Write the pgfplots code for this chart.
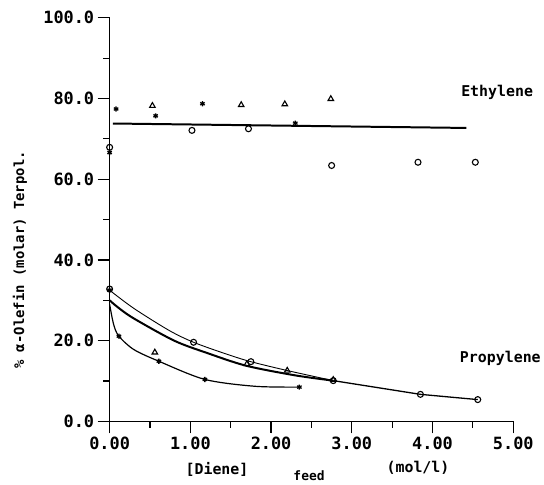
\documentclass[border=0pt]{standalone}
\usepackage{pgfplots}
\pgfplotsset{compat=1.18}
\usepackage{fontspec}
\setmainfont{DejaVu Sans Mono}
\begin{document}
\begin{tikzpicture}
\begin{axis}[
  scale only axis, width=405bp, height=405bp,
  xmin=0, xmax=5, ymin=0, ymax=100,
  axis x line*=bottom, axis y line*=left,
  axis line style={-, line width=1.3bp},
  xtick={0,1,2,3,4,5}, ytick={0,20,40,60,80,100},
  tick align=outside,
  major tick length=12bp,
  tick style={black, line width=1.1bp},
  xticklabel={\pgfmathprintnumber[fixed,fixed zerofill,precision=2,assume math mode=true]{\tick}},
  yticklabel={\pgfmathprintnumber[fixed,fixed zerofill,precision=1,assume math mode=true]{\tick}},
  tick label style={font=\fontsize{17}{19}\selectfont\bfseries},
  clip=false,
]
% invisible frame giving the page the reference's size
\path (axis cs:-1.358,-14.4) rectangle (axis cs:5.358,104.4);

% tick marks, pointing outward (drawn as combs)
\addplot[ycomb, black, line width=1.2bp, forget plot] coordinates {
  (0,-2.95) (1,-2.95) (2,-2.95) (3,-2.95) (4,-2.95) (5,-2.95)};
\addplot[ycomb, black, line width=1.2bp, forget plot] coordinates {
  (0.5,-1.7) (1.5,-1.7) (2.5,-1.7) (3.5,-1.7) (4.5,-1.7)};
\addplot[xcomb, black, line width=1.2bp, forget plot] coordinates {
  (-0.148,0) (-0.148,20) (-0.148,40) (-0.148,60) (-0.148,80) (-0.148,100)};
\addplot[xcomb, black, line width=1.2bp, forget plot] coordinates {
  (-0.086,10) (-0.086,30) (-0.086,50) (-0.086,70) (-0.086,90)};

% Ethylene fitted line
\addplot[black, line width=2bp] coordinates {(0.04,73.8) (4.42,72.7)};

% Propylene curves
\addplot[black, line width=0.9bp, smooth] coordinates {
  (0,32.5) (0.3,28) (0.74,22.5) (1.04,19.6) (1.4,17) (1.73,14.9) (2.2,12.6) (2.77,10.1)};
\addplot[black, line width=2bp, smooth] coordinates {
  (0,30) (0.1,28.3) (0.3,25.5) (0.8,20) (1.2,17) (1.69,13.8) (2.3,11.4) (2.77,10.1)};
\addplot[black, line width=1.2bp, smooth] coordinates {
  (0,29) (0.05,24) (0.115,21.1) (0.3,17.8) (0.61,14.9) (1.18,10.4) (1.8,8.7) (2.35,8.5)};
\addplot[black, line width=1.3bp] coordinates {(2.77,10.1) (3.85,6.7) (4.56,5.4)};

% stars
\addplot[only marks, mark=asterisk, mark size=2.6, line width=1.3bp, black] coordinates {
  (0,66.6) (0.08,77.4) (0.57,75.7) (1.15,78.7) (2.30,73.9)
  (0,32.5) (0.115,21.1) (0.61,14.9) (1.18,10.4) (2.35,8.5)};
% triangles
\addplot[only marks, mark=triangle, mark size=3.2, line width=1.1bp, black] coordinates {
  (0.53,78.2) (1.63,78.4) (2.17,78.6) (2.74,79.9)
  (0.56,17.1) (1.7,14.2) (2.2,12.6) (2.77,10.3)};
% circles
\addplot[only marks, mark=o, mark size=3, line width=1.1bp, black] coordinates {
  (0,67.9) (1.02,72.1) (1.72,72.5) (2.75,63.4) (3.82,64.2) (4.53,64.2)
  (0,32.8) (1.04,19.6) (1.75,14.8) (2.77,10.1) (3.85,6.7) (4.56,5.4)};

\node[font=\fontsize{15}{17}\selectfont\bfseries] at (axis cs:4.8,81.6) {Ethylene};
\node[font=\fontsize{15}{17}\selectfont\bfseries] at (axis cs:4.84,15.6) {Propylene};
\node[font=\fontsize{14}{16}\selectfont\bfseries, rotate=90] at (axis cs:-1.11,40) {\% α-Olefin (molar) Terpol.};
\node[font=\fontsize{15}{17}\selectfont\bfseries] at (axis cs:1.33,-11.8) {[Diene]};
\node[font=\fontsize{13}{15}\selectfont\bfseries] at (axis cs:2.47,-13.5) {feed};
\node[font=\fontsize{15}{17}\selectfont\bfseries] at (axis cs:3.82,-11.4) {(mol/l)};
\end{axis}
\end{tikzpicture}
\end{document}
